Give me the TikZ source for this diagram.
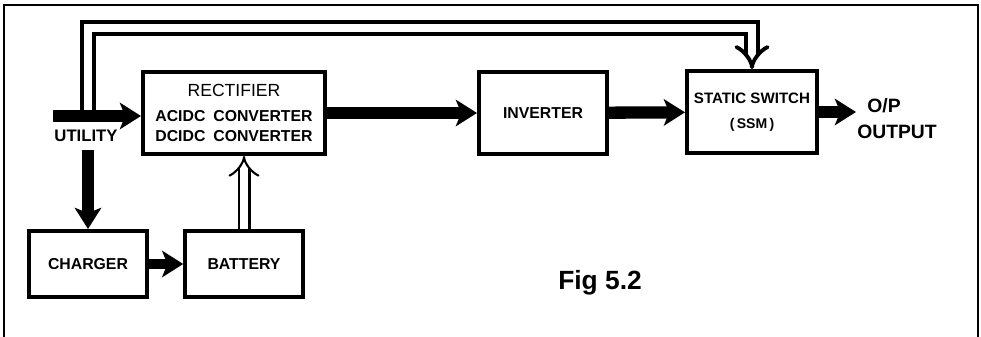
\documentclass[tikz,border=0pt]{standalone}
\usepackage{fontspec}
\setmainfont{Liberation Sans}
\usetikzlibrary{arrows.meta,calc}

\begin{document}
\begin{tikzpicture}[
    x=0.02cm, y=-0.02cm,
    font=\bfseries\fontsize{9}{11.3}\selectfont,
    box/.style={
        draw,
        line width=2.3pt,
        align=center,
        inner sep=0pt,
        minimum height=1.64cm
    },
    lowbox/.style={
        box,
        minimum height=1.32cm,
        minimum width=2.35cm
    },
    flow/.style={
        line width=7pt,
        -{Stealth[length=12pt,width=15pt,inset=3pt]}
    },
    feed/.style={
        double,
        line width=2.2pt,
        double distance=4.5pt,
        -{Implies}
    },
    supply/.style={
        double,
        line width=1.2pt,
        double distance=5pt,
        -{Implies}
    },
    label/.style={
        inner sep=0pt
    }
]
\useasboundingbox (0,0) rectangle (981,337);

% Outer frame
\draw[line width=1.1pt] (4,345) |- (978,5) -- (978,345);

% Main chain
\node[box, minimum width=3.64cm] (rect) at (234,113) {%
    {\mdseries\fontsize{10}{12}\selectfont RECTIFIER}\\[3pt]
    ACIDC\enspace CONVERTER\\
    DCIDC\enspace CONVERTER};
\node[box, minimum width=2.56cm] (inverter) at (543,113) {INVERTER};
\node[box, minimum width=2.6cm] (static) at (752,112) {%
    {\fontsize{8.6}{10}\selectfont STATIC SWITCH}\\[3pt]
    {\fontsize{8}{10}\selectfont (\,SSM\,)}};

% Lower chain
\node[lowbox] (charger) at (88,264) {CHARGER};
\node[lowbox] (battery) at (244,264) {BATTERY};

% Texts
\coordinate (util) at (53,116);
\coordinate (tap) at (88,116);
\coordinate (drop) at (88,150);
\coordinate (top) at (0,28);
\coordinate (outend) at (856,0);
\node[label, font=\bfseries\fontsize{9.5}{11}\selectfont] (utility) at (86,136) {UTILITY};
\node[label, font=\bfseries\fontsize{11}{13}\selectfont] (op) at (884,106) {O/P};
\node[label, font=\bfseries\fontsize{11}{13}\selectfont] (output) at (897,132) {OUTPUT};
\node[label, font=\bfseries\fontsize{15}{18}\selectfont] (fig) at (600,283) {Fig 5.2};

% Bypass line to static switch
\draw[feed] (tap) |- (static.north |- top) -- (static.north);

% Connections
\draw[flow] (util) -- (util -| rect.west);
\draw[flow] (rect) -- (inverter);
\draw[flow] (inverter) -- (static);
\draw[flow] (static.east) -- (outend |- static.east);
\draw[flow] (drop) -- (charger.north);
\draw[flow, line width=6pt] (charger) -- (battery);
\draw[supply] (battery.north) -- (battery.north |- rect.south);

\end{tikzpicture}
\end{document}
